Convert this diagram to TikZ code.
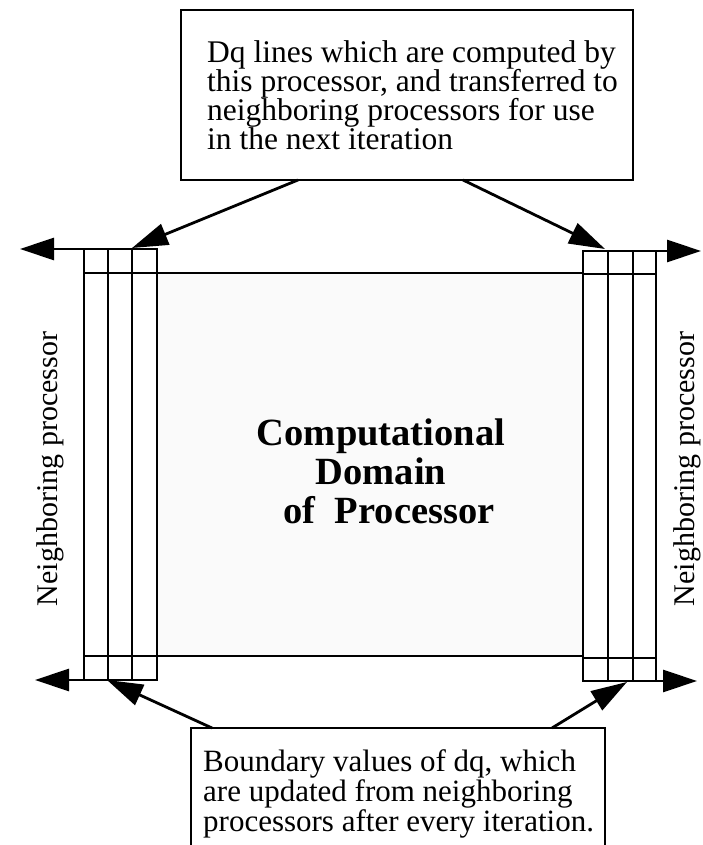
\documentclass[tikz,border=0pt]{standalone}
\usepackage{fontspec}
\setmainfont{Liberation Serif}
\usetikzlibrary{arrows.meta}
\begin{document}
\begin{tikzpicture}[x=1pt,y=1pt,
  colline/.style={line width=2.8pt},
  colbox/.style={draw,line width=2.8pt,inner sep=0pt,outer sep=0pt,anchor=south west},
  boxline/.style={draw,line width=2.4pt},
  bigarrow/.style={line width=2.8pt,-{Triangle[length=34pt,width=22pt]}},
  callarrow/.style={line width=2.8pt,-{Triangle[length=36pt,width=22pt]}},
  note/.style={align=left,inner sep=0pt},
  side/.style={font=\fontsize{30}{32}\selectfont,rotate=90,inner sep=0pt},
  centre/.style={font=\fontsize{38.5}{39}\selectfont\bfseries,align=center,inner sep=0pt}]
\useasboundingbox (0,0) rectangle (702,845);
% domain
\fill[gray!4] (157,189) rectangle (583,572);
\draw[colline] (157,572) -- (583,572);
\draw[colline] (157,189) -- (583,189);
% left column
\node[colbox,minimum width=73pt,minimum height=431pt] (leftcol) at (84,165) {};
\draw[colline] (108,165) -- (108,596) (132,165) -- (132,596);
\draw[colline] (84,572) -- (157,572) (84,189) -- (157,189);
% right column
\node[colbox,minimum width=73pt,minimum height=430pt] (rightcol) at (583,164) {};
\draw[colline] (608,164) -- (608,594) (633,164) -- (633,594);
\draw[colline] (583,571) -- (656,571) (583,187) -- (656,187);
% outward arrows
\coordinate (tl) at (20,596);
\coordinate (bl) at (35,165);
\coordinate (tr) at (701,594);
\coordinate (br) at (697,164);
\draw[bigarrow] (leftcol.north west) -- (tl);
\draw[bigarrow] (leftcol.south west) -- (bl);
\draw[bigarrow] (rightcol.north east) -- (tr);
\draw[bigarrow] (rightcol.south east) -- (br);
% top note
\node[boxline,minimum width=452pt,minimum height=170pt,inner sep=0pt,outer sep=0pt] (topbox) at (407,750) {};
\node[note,font=\fontsize{31.5}{29}\selectfont,anchor=north west] (toptext) at (207,805) {Dq lines which are computed by\\this processor, and transferred to\\neighboring processors for use\\in the next iteration};
\coordinate (s1) at (298,665);
\coordinate (s2) at (463,665);
\coordinate (tla) at (132,597);
\coordinate (tra) at (605,596);
\draw[callarrow] (s1) -- (tla);
\draw[callarrow] (s2) -- (tra);
% bottom note
\draw[line width=2.4pt] (191,-2) -- (191,117) -- (605,117) -- (605,-2);
\node[note,font=\fontsize{31}{30}\selectfont,anchor=north west] (bottext) at (203,96) {Boundary values of dq, which\\are updated from neighboring\\processors after every iteration.};
\coordinate (bla) at (107,165);
\coordinate (bra) at (627,163);
\coordinate (b1) at (212,117);
\coordinate (b2) at (552,117);
\draw[callarrow] (b1) -- (bla);
\draw[callarrow] (b2) -- (bra);
% side labels
\node[side] (lside) at (50,376) {Neighboring processor};
\node[side] (rside) at (687,376) {Neighboring processor};
% centre
\node[centre] (ctext) at (381,374) {Computational\\Domain\hspace*{10pt}\\\hspace*{16pt}of~ Processor};
\end{tikzpicture}
\end{document}
